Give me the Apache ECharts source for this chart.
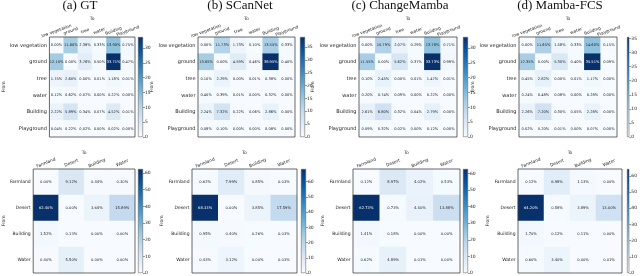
<!DOCTYPE html>
<html><head><meta charset="utf-8">
<script src="https://cdn.jsdelivr.net/npm/echarts@6/dist/echarts.min.js"></script>
<style>html,body{margin:0;padding:0;background:#fff}#c{width:640px;height:276px}</style>
</head><body><div id="c"></div>
<script>
const topCats = ['low vegetation','ground','tree','water','Building','Playground'];
const botCats = ['Farmland','Desert','Building','Water'];
const titles = ['(a) GT','(b) SCanNet','(c) ChangeMamba','(d) Mamba-FCS'];
const topTicks = [0,5,10,15,20,25,30,35];
const botTicks = [0,10,20,30,40,50,60];

const gtTop = [[0.00,11.60,2.38,0.33,13.90,0.75],[12.10,0.00,3.76,0.50,33.71,0.47],[1.75,2.60,0.00,0.01,1.18,0.01],[0.12,0.62,0.07,0.00,0.22,0.00],[2.22,5.89,0.34,0.07,4.52,0.01],[0.04,0.22,0.02,0.00,0.02,0.00]];
const scannetTop = [[0.00,11.73,1.73,0.10,13.55,0.33],[13.65,0.00,4.59,0.46,38.95,0.40],[0.10,2.29,0.00,0.01,0.38,0.00],[0.40,0.39,0.01,0.00,0.32,0.00],[2.24,7.32,0.22,0.06,2.86,0.00],[0.08,0.10,0.00,0.00,0.08,0.00]];
const changeMambaTop = [[0.00,10.79,2.07,0.29,13.78,0.71],[11.55,0.00,5.62,0.37,33.73,0.99],[0.10,2.45,0.00,0.01,1.47,0.01],[0.20,0.74,0.09,0.00,0.22,0.00],[2.61,6.80,0.32,0.04,2.79,0.00],[0.09,0.32,0.02,0.00,0.12,0.00]];
const mambaFcsTop = [[0.00,11.65,1.58,0.33,14.60,0.15],[12.35,0.00,5.30,0.40,35.51,0.09],[0.45,2.82,0.00,0.01,1.17,0.00],[0.24,0.48,0.08,0.00,0.28,0.00],[2.26,7.20,0.30,0.05,2.28,0.00],[0.02,0.20,0.01,0.00,0.07,0.00]];

const gtBot = [[0.00,9.12,0.44,0.30],[62.40,0.00,3.64,15.89],[1.52,0.13,0.00,0.00],[0.40,5.50,0.00,0.00]];
const scannetBot = [[0.62,7.99,0.85,0.03],[68.33,0.00,3.85,17.59],[0.95,0.40,0.26,0.03],[0.43,3.12,0.00,0.03]];
const changeMambaBot = [[0.12,8.97,4.02,0.53],[62.73,0.73,4.40,13.88],[1.41,0.18,0.00,0.00],[0.62,4.89,0.01,0.00]];
const mambaFcsBot = [[0.12,6.98,1.13,0.00],[64.20,0.58,3.89,13.00],[1.70,0.12,0.11,0.00],[0.60,3.40,0.00,0.01]];

const blues = ['#f7fbff','#deebf7','#c6dbef','#9ecae1','#6baed6','#4292c6','#2171b5','#08519c','#08306b'];
const SANS = 'DejaVu Sans';

const layoutTop = [{l:38,w:97,cb:138},{l:198,w:97,cb:300},{l:359,w:98,cb:463},{l:519,w:98,cb:627}];
const layoutBot = [{l:29,w:106,cb:138},{l:192,w:105,cb:301},{l:353,w:107,cb:463},{l:518,w:104,cb:627}];

const panels = [];
[gtTop,scannetTop,changeMambaTop,mambaFcsTop].forEach((m,i)=>panels.push(Object.assign({mat:m,cats:topCats,ticks:topTicks,top:37,h:100,fromGap:33,toGap:15,rot:-20,yfs:5,xfs:4.3,vfs:3.6},layoutTop[i])));
[gtBot,scannetBot,changeMambaBot,mambaFcsBot].forEach((m,i)=>panels.push(Object.assign({mat:m,cats:botCats,ticks:botTicks,top:169,h:104,fromGap:21,toGap:11,rot:-22,yfs:4.5,xfs:4.4,vfs:3.7},layoutBot[i])));

const grid=[], xAxis=[], yAxis=[], series=[], visualMap=[];
panels.forEach((p,k)=>{
  const maxV = Math.max(...p.mat.flat());
  const gH = grid.length;
  grid.push({left:p.l, top:p.top, width:p.w, height:p.h, show:true, borderColor:'#444', borderWidth:0.8, backgroundColor:'transparent', z:10});
  const gC = grid.length;
  grid.push({left:p.cb, top:p.top, width:5, height:p.h});
  const xH = xAxis.length;
  xAxis.push({type:'category', gridIndex:gH, data:p.cats, position:'top', name:'To', nameLocation:'middle', nameGap:p.toGap,
    nameTextStyle:{fontSize:4.5, fontFamily:SANS, color:'#222'}, axisLine:{show:false},
    axisTick:{alignWithLabel:true, length:2, lineStyle:{color:'#333', width:0.5}},
    axisLabel:{rotate:p.rot, fontSize:p.xfs, fontFamily:SANS, color:'#222', align:'center', verticalAlign:'middle', margin:6, interval:0},
    splitLine:{show:false}});
  const xC = xAxis.length;
  xAxis.push({type:'category', gridIndex:gC, data:[''], show:false});
  const yH = yAxis.length;
  yAxis.push({type:'category', gridIndex:gH, data:p.cats, inverse:true, name:'From', nameLocation:'middle', nameGap:p.fromGap, nameRotate:90,
    nameTextStyle:{fontSize:4.5, fontFamily:SANS, color:'#222'}, axisLine:{show:false},
    axisTick:{alignWithLabel:true, length:2, lineStyle:{color:'#333', width:0.5}},
    axisLabel:{fontSize:p.yfs, fontFamily:SANS, color:'#222', margin:2.5, interval:0}, splitLine:{show:false}});
  const yC = yAxis.length;
  const tv = p.ticks.filter(t=>t<=maxV);
  yAxis.push({type:'value', gridIndex:gC, min:0, max:maxV, position:'right', axisLine:{show:false},
    axisTick:{show:true, length:2, customValues:tv, lineStyle:{color:'#333', width:0.5}},
    axisLabel:{fontSize:4.5, fontFamily:SANS, color:'#222', margin:2, customValues:tv}, splitLine:{show:false}});
  const data=[];
  p.mat.forEach((row,r)=>row.forEach((v,c)=>data.push({value:[c,r,v], label:{color: v>maxV*0.55?'#fff':'#222'}})));
  const sH = series.length;
  series.push({type:'heatmap', xAxisIndex:xH, yAxisIndex:yH, data,
    label:{show:true, fontSize:p.vfs, fontFamily:SANS, formatter:q=>q.value[2].toFixed(2)+'%'},
    emphasis:{disabled:true}, silent:true});
  visualMap.push({type:'continuous', show:false, seriesIndex:sH, min:0, max:maxV, inRange:{color:blues}});
  series.push({type:'bar', xAxisIndex:xC, yAxisIndex:yC, data:[maxV], barWidth:'100%', silent:true,
    itemStyle:{color:new echarts.graphic.LinearGradient(0,1,0,0, blues.map((c,i)=>({offset:i/(blues.length-1), color:c}))), borderColor:'#555', borderWidth:0.5}});
});

const title = titles.map((t,i)=>({text:t, left:80+160*i, top:-1, textAlign:'center', padding:0,
  textStyle:{fontFamily:'Liberation Serif', fontSize:13, fontWeight:'normal', color:'#111'}}));

const chart = echarts.init(document.getElementById('c'), null, {renderer:'canvas'});
chart.setOption({animation:false, title, grid, xAxis, yAxis, series, visualMap});
</script></body></html>
